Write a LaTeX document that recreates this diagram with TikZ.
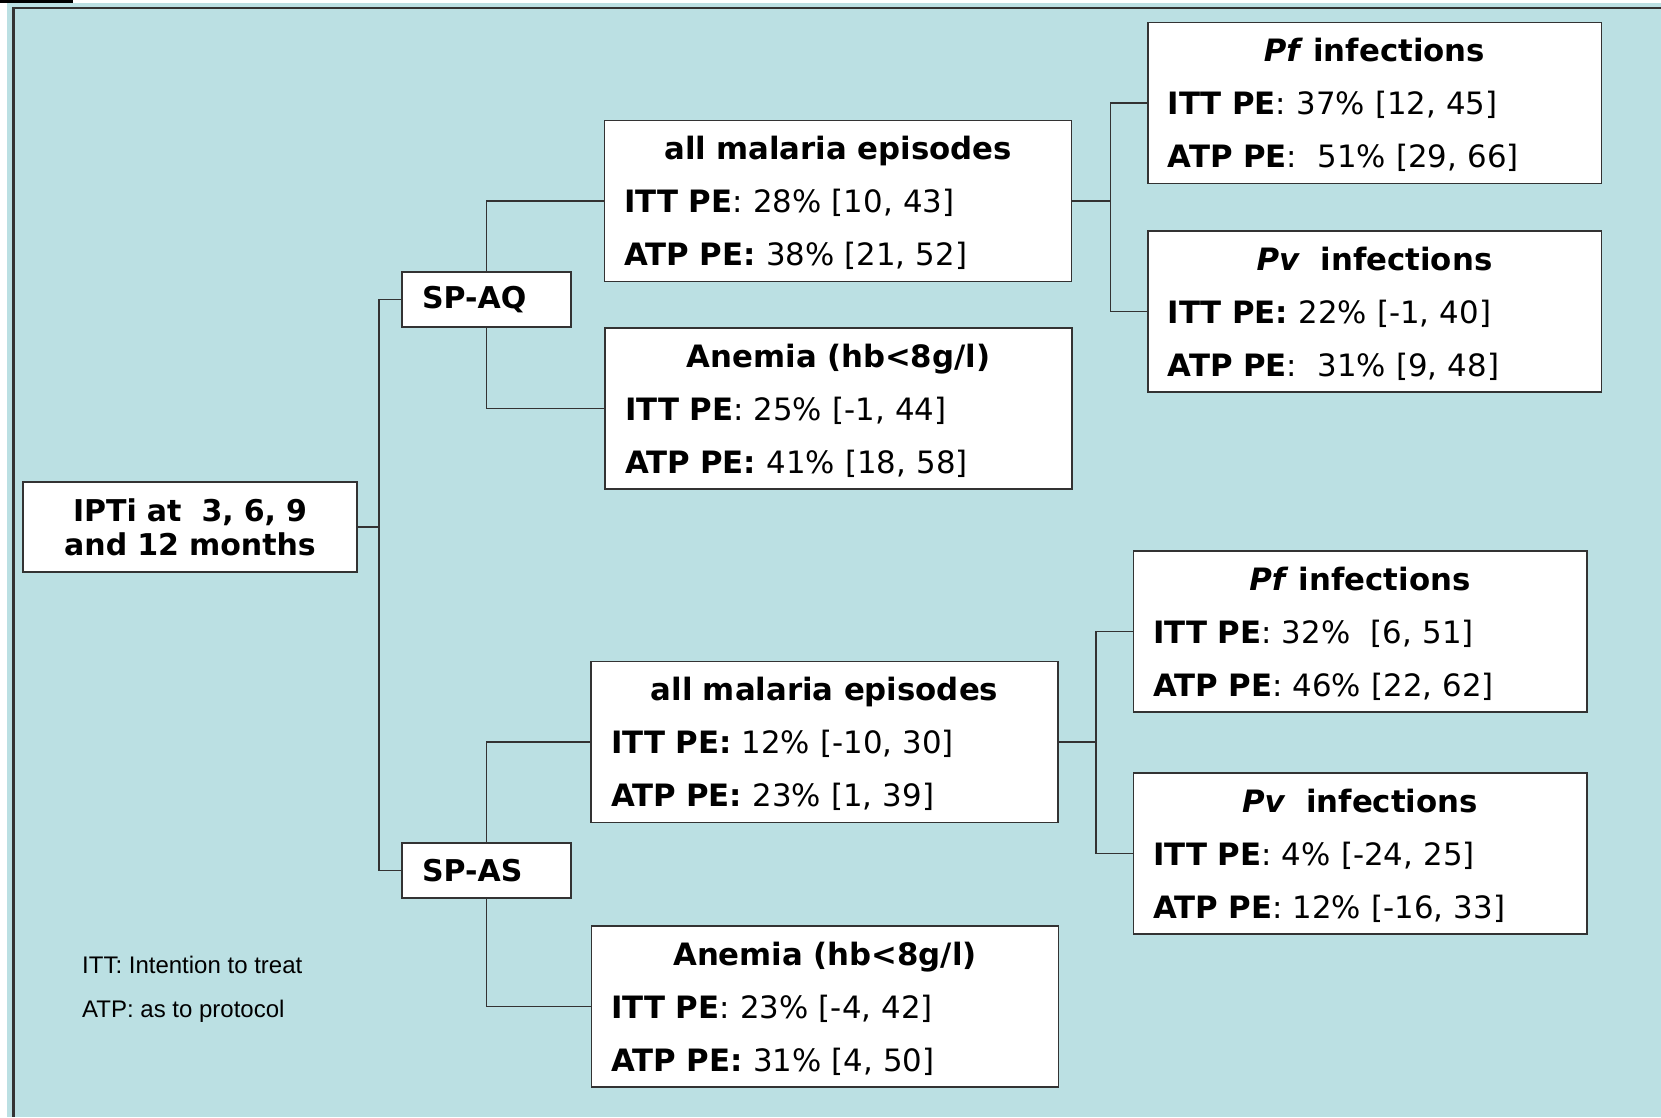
\documentclass[tikz,border=0pt]{standalone}
\usepackage{fontspec}
\setmainfont{DejaVu Sans}[BoldFont={DejaVu Sans Bold},ItalicFont={DejaVu Sans Oblique},BoldItalicFont={DejaVu Sans Bold Oblique}]
\newfontfamily\legfont{Liberation Sans}
\definecolor{fondo}{RGB}{187,224,227}
\definecolor{linea}{RGB}{51,51,51}
\newcommand{\tit}[1]{\leavevmode\hbox to\hsize{\hfil\bfseries\rule{0pt}{28pt}#1\hfil}}

\begin{document}
\begin{tikzpicture}[x=1pt,y=-1pt,
    caja/.style={draw=linea, line width=1.5pt, fill=white, inner xsep=20pt, inner ysep=0pt,
      align=left, font=\fontsize{30.8}{53}\selectfont, minimum height=161pt},
    ancha/.style={caja, text width=427pt},
    estrecha/.style={caja, text width=413.5pt},
    rama/.style={draw=linea, line width=1.5pt, fill=white, inner xsep=20pt, inner ysep=0pt,
      text width=129pt, minimum height=55pt, align=left, font=\fontsize{30}{36}\selectfont\bfseries},
    conector/.style={draw=linea, line width=1.5pt},
    nota/.style={anchor=base west, inner sep=0pt, font=\legfont\fontsize{24}{28}\selectfont}]
        \useasboundingbox (0,0) rectangle (1661,1117);
        % fondo
        \fill[fondo] (7,3) rectangle (1661,1117);
        \fill[black] (0,0) rectangle (73,3);
        \draw[linea, line width=2.5pt] (1661,8) -- (13.5,8) -- (13.5,1117);
        % raiz
        \node[draw=linea, line width=1.5pt, fill=white, text width=294pt, inner xsep=20pt, inner ysep=0pt,
          minimum height=90pt, align=center, font=\fontsize{30}{34}\selectfont\bfseries] (ipti) at (190,527) {IPTi at~ 3, 6, 9\\and 12 months};
        \node[rama] (spaq) at (486.5,299.5) {SP-AQ};
        \node[rama] (spas) at (486.5,870.5) {SP-AS};
        \draw[conector] (ipti.east) -- ++(21,0) coordinate (tronco) |- (spaq.west);
        \draw[conector] (tronco) |- (spas.west);
        % rama SP-AQ
        \node[ancha] (malaq) at (838,201) {\tit{all malaria episodes}\\
          \textbf{ITT PE}: 28\% [10, 43]\\
          \textbf{ATP PE:} 38\% [21, 52]};
        \node[ancha] (anaq) at (838.5,408.5) {\tit{Anemia (hb<8g/l)}\\
          \textbf{ITT PE}: 25\% [-1, 44]\\
          \textbf{ATP PE:} 41\% [18, 58]};
        \node[estrecha] (pfaq) at (1374.5,103) {\tit{\textit{Pf} infections}\\
          \textbf{ITT PE}: 37\% [12, 45]\\
          \textbf{ATP PE}:~ 51\% [29, 66]};
        \node[estrecha] (pvaq) at (1374.5,311.5) {\tit{\textit{Pv}~ infections}\\
          \textbf{ITT PE:} 22\% [-1, 40]\\
          \textbf{ATP PE}:~ 31\% [9, 48]};
        \draw[conector] (spaq.north) |- (malaq.west);
        \draw[conector] (spaq.south) |- (anaq.west);
        \draw[conector] (malaq.east) -- ++(38,0) coordinate (cruce1) |- (pfaq.west);
        \draw[conector] (cruce1) |- (pvaq.west);
        % rama SP-AS
        \node[ancha] (malas) at (824.5,742) {\tit{all malaria episodes}\\
          \textbf{ITT PE:} 12\% [-10, 30]\\
          \textbf{ATP PE:} 23\% [1, 39]};
        \node[ancha] (anas) at (825,1006.5) {\tit{Anemia (hb<8g/l)}\\
          \textbf{ITT PE}: 23\% [-4, 42]\\
          \textbf{ATP PE:} 31\% [4, 50]};
        \node[estrecha] (pfas) at (1360,631.5) {\tit{\textit{Pf} infections}\\
          \textbf{ITT PE}: 32\%~ [6, 51]\\
          \textbf{ATP PE}: 46\% [22, 62]};
        \node[estrecha] (pvas) at (1360,853.5) {\tit{\textit{Pv}~ infections}\\
          \textbf{ITT PE}: 4\% [-24, 25]\\
          \textbf{ATP PE}: 12\% [-16, 33]};
        \draw[conector] (spas.north) |- (malas.west);
        \draw[conector] (spas.south) |- (anas.west);
        \draw[conector] (malas.east) -- ++(37,0) coordinate (cruce2) |- (pfas.west);
        \draw[conector] (cruce2) |- (pvas.west);
        % nota de abreviaturas
        \node[nota] (itt) at (82,973) {ITT: Intention to treat};
        \node[nota] (atp) at (82,1017) {ATP: as to protocol};
    \end{tikzpicture}
\end{document}
